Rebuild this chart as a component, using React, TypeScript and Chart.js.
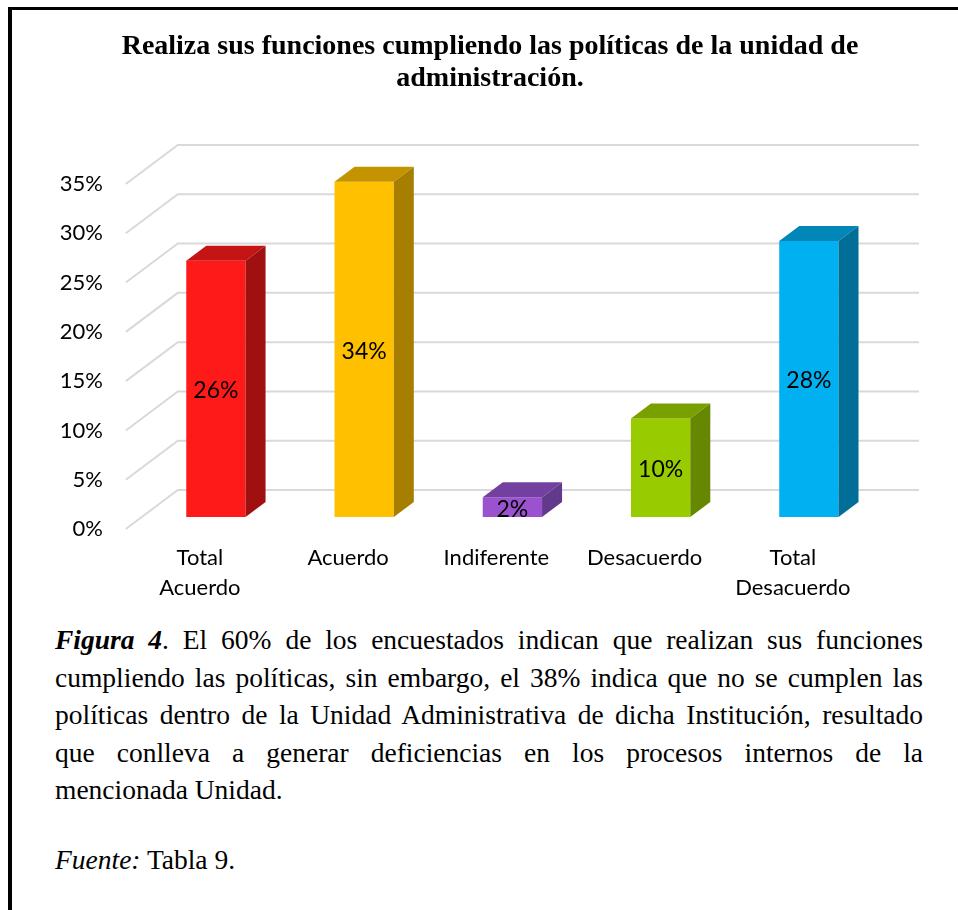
import React, { useEffect, useRef } from "react";
import { Chart, registerables } from "chart.js";

Chart.register(...registerables);

const categories: (string | string[])[] = [
  ["Total", "Acuerdo"],
  "Acuerdo",
  "Indiferente",
  "Desacuerdo",
  ["Total", "Desacuerdo"],
];
const values: number[] = [26, 34, 2, 10, 28];
const frontColors: string[] = ["#FF1A1A", "#FFC000", "#9A52CF", "#99CC00", "#00B0F0"];
const topColors: string[] = ["#C41414", "#C49300", "#7340A0", "#7AA000", "#0087B8"];
const sideColors: string[] = ["#A11010", "#A67F00", "#623A8C", "#668800", "#006E96"];
const yTicks: number[] = [0, 5, 10, 15, 20, 25, 30, 35];

const FLOOR_DX = 52;
const FLOOR_DY = 39;
const OX = 16;
const OY = 12;
const BAR_DX = 20;
const BAR_DY = 15;
const AXIS_FONT = { family: "Lato", size: 22, lineHeight: 30 / 22 };

const depthPlugin = {
  id: "depth3d",
  beforeDatasetsDraw(chart: any) {
    const { ctx, chartArea, scales } = chart;
    const y = scales.y;
    ctx.save();
    ctx.strokeStyle = "#D9D9D9";
    ctx.lineWidth = 2;
    yTicks.forEach((v) => {
      const py = y.getPixelForValue(v);
      ctx.beginPath();
      ctx.moveTo(chartArea.left, py);
      ctx.lineTo(chartArea.left + FLOOR_DX, py - FLOOR_DY);
      ctx.lineTo(chartArea.right + FLOOR_DX, py - FLOOR_DY);
      ctx.stroke();
    });
    ctx.restore();
    ctx.save();
    ctx.translate(OX, -OY);
  },
  afterDatasetsDraw(chart: any) {
    const { ctx } = chart;
    ctx.restore();
    const meta = chart.getDatasetMeta(0);
    ctx.save();
    meta.data.forEach((el: any, i: number) => {
      const { x, y, base, width } = el.getProps(["x", "y", "base", "width"], true);
      const L = x - width / 2 + OX;
      const R = x + width / 2 + OX;
      const T = y - OY;
      const B = base - OY;
      ctx.fillStyle = topColors[i];
      ctx.beginPath();
      ctx.moveTo(L, T);
      ctx.lineTo(R, T);
      ctx.lineTo(R + BAR_DX, T - BAR_DY);
      ctx.lineTo(L + BAR_DX, T - BAR_DY);
      ctx.closePath();
      ctx.fill();
      ctx.fillStyle = sideColors[i];
      ctx.beginPath();
      ctx.moveTo(R, T);
      ctx.lineTo(R + BAR_DX, T - BAR_DY);
      ctx.lineTo(R + BAR_DX, B - BAR_DY);
      ctx.lineTo(R, B);
      ctx.closePath();
      ctx.fill();
      ctx.fillStyle = "#000";
      ctx.font = "23px Lato";
      ctx.textAlign = "center";
      ctx.textBaseline = "middle";
      ctx.fillText(values[i] + "%", (L + R) / 2, (T + B) / 2 + 2);
    });
    ctx.restore();
  },
};

function BarChart3D() {
  const ref = useRef<HTMLCanvasElement | null>(null);
  useEffect(() => {
    if (!ref.current) return;
    const chart = new Chart(ref.current, {
      type: "bar",
      data: {
        labels: categories,
        datasets: [
          {
            data: values,
            backgroundColor: frontColors,
            borderWidth: 0,
            categoryPercentage: 1,
            barPercentage: 0.4,
            clip: false as any,
          },
        ],
      },
      options: {
        responsive: false,
        animation: false,
        layout: { padding: { left: 0, right: 91, top: 184, bottom: 0 } },
        plugins: {
          legend: { display: false },
          tooltip: { enabled: false },
          title: { display: false },
        },
        scales: {
          x: {
            grid: { display: false, drawTicks: false },
            border: { display: false },
            ticks: { font: AXIS_FONT, color: "#000", padding: 14, maxRotation: 0, autoSkip: false },
            afterFit: (s: any) => {
              s.height = 91;
            },
          },
          y: {
            min: 0,
            max: 35,
            grid: { display: false, drawTicks: false },
            border: { display: false },
            ticks: {
              stepSize: 5,
              font: AXIS_FONT,
              color: "#000",
              padding: 23,
              callback: (v: any) => v + "%",
            },
            afterFit: (s: any) => {
              s.width = 125.8;
            },
          },
        },
      },
      plugins: [depthPlugin],
    });
    return () => chart.destroy();
  }, []);
  return (
    <canvas
      ref={ref}
      width={958}
      height={620}
      style={{ position: "absolute", left: 0, top: 0, width: 958, height: 620 }}
    />
  );
}

const captionLines: string[] = [
  "cumpliendo las políticas, sin embargo, el 38% indica que no se cumplen las",
  "políticas dentro de la Unidad Administrativa de dicha Institución, resultado",
  "que conlleva a generar deficiencias en los procesos internos de la",
];

export default function App() {
  const serif = '"Liberation Serif", "Times New Roman", serif';
  const lineStyle: React.CSSProperties = {
    textAlign: "justify",
    textAlignLast: "justify" as any,
    whiteSpace: "nowrap",
    height: 37.5,
  };
  return (
    <div
      style={{
        position: "absolute",
        left: 0,
        top: 0,
        width: 958,
        height: 910,
        overflow: "hidden",
        background: "#fff",
      }}
    >
      <div
        style={{
          position: "absolute",
          left: 8,
          top: 7,
          width: 1000,
          height: 1000,
          borderLeft: "4px solid #000",
          borderTop: "3px solid #000",
          boxSizing: "border-box",
        }}
      />
      <BarChart3D />
      <div
        style={{
          position: "absolute",
          left: 0,
          top: 29,
          width: 980,
          textAlign: "center",
          fontFamily: serif,
          fontWeight: "bold",
          fontSize: 28,
          lineHeight: "32px",
          color: "#000",
        }}
      >
        Realiza sus funciones cumpliendo las políticas de la unidad de
        <br />
        administración.
      </div>
      <div
        style={{
          position: "absolute",
          left: 55,
          top: 621,
          width: 868,
          fontFamily: serif,
          fontSize: 27.5,
          lineHeight: "37.5px",
          color: "#000",
        }}
      >
        <div style={lineStyle}>
          <b>
            <i>Figura 4</i>
          </b>
          . El 60% de los encuestados indican que realizan sus funciones
        </div>
        {captionLines.map((l, i) => (
          <div key={i} style={lineStyle}>
            {l}
          </div>
        ))}
        <div style={{ height: 37.5, whiteSpace: "nowrap" }}>mencionada Unidad.</div>
      </div>
      <div
        style={{
          position: "absolute",
          left: 55,
          top: 841,
          fontFamily: serif,
          fontSize: 27.5,
          lineHeight: "37.5px",
          color: "#000",
          whiteSpace: "nowrap",
        }}
      >
        <i>Fuente:</i> Tabla 9.
      </div>
    </div>
  );
}
